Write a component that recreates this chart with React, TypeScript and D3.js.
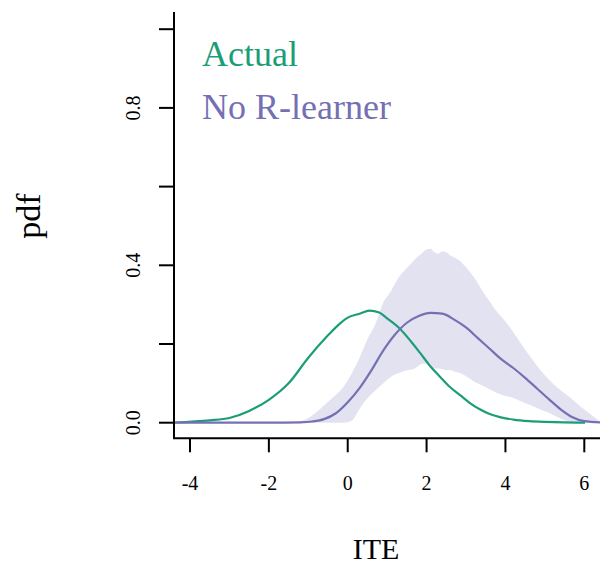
import React from 'react';
import * as d3 from 'd3';

const actualX = [-4.4, -3.5, -3.0, -2.5, -2.0, -1.5, -1.0, -0.5, -0.2, 0.0, 0.3, 0.55, 0.8, 1.0, 1.33, 1.6, 1.83, 2.1, 2.34, 2.6, 2.85, 3.1, 3.35, 3.6, 3.86, 4.2, 4.6, 5.0, 5.5, 6.02];
const actualY = [0.0005, 0.006, 0.012, 0.03, 0.058, 0.1, 0.165, 0.222, 0.252, 0.267, 0.277, 0.285, 0.28, 0.265, 0.238, 0.207, 0.178, 0.143, 0.117, 0.09, 0.07, 0.05, 0.034, 0.022, 0.014, 0.008, 0.004, 0.002, 0.0007, 0.0003];

const noRX = [-4.4, -2.0, -1.2, -0.9, -0.6, -0.3, 0.0, 0.3, 0.6, 0.9, 1.2, 1.5, 1.8, 2.1, 2.4, 2.7, 3.0, 3.3, 3.6, 3.9, 4.2, 4.5, 4.8, 5.1, 5.4, 5.7, 6.0, 6.4];
const noRY = [0, 0, 0.001, 0.003, 0.009, 0.024, 0.052, 0.088, 0.133, 0.183, 0.224, 0.254, 0.271, 0.279, 0.277, 0.262, 0.242, 0.215, 0.188, 0.161, 0.139, 0.114, 0.087, 0.06, 0.034, 0.014, 0.004, 0.001];

const bandX = [-1.3, -1.0, -0.7, -0.4, -0.1, 0.1, 0.3, 0.5, 0.7, 0.9, 1.1, 1.3, 1.5, 1.7, 1.9, 2.0, 2.1, 2.2, 2.3, 2.4, 2.5, 2.6, 2.7, 2.85, 3.0, 3.2, 3.4, 3.6, 3.8, 4.0, 4.2, 4.45, 4.7, 4.9, 5.1, 5.3, 5.5, 5.7, 5.9, 6.1, 6.4];
const bandHi = [0, 0.012, 0.035, 0.062, 0.092, 0.125, 0.165, 0.212, 0.25, 0.305, 0.335, 0.37, 0.393, 0.415, 0.432, 0.44, 0.442, 0.433, 0.43, 0.436, 0.433, 0.425, 0.42, 0.411, 0.395, 0.37, 0.338, 0.308, 0.28, 0.257, 0.23, 0.193, 0.158, 0.132, 0.11, 0.091, 0.075, 0.059, 0.041, 0.026, 0.003];
const bandLo = [0, 0, 0, 0, 0, 0.005, 0.035, 0.062, 0.082, 0.1, 0.117, 0.126, 0.133, 0.138, 0.15, 0.15, 0.14, 0.138, 0.138, 0.136, 0.134, 0.134, 0.13, 0.126, 0.118, 0.105, 0.095, 0.085, 0.075, 0.068, 0.063, 0.052, 0.042, 0.033, 0.025, 0.015, 0.006, 0.001, 0, 0, 0];

const xTicks = [-4, -2, 0, 2, 4, 6];
const yTicks = [0, 0.2, 0.4, 0.6, 0.8, 1.0];
const yLabels = [0, 0.4, 0.8];

const legendNames = ['Actual', 'No R-learner'];
const colors = ['#1b9e77', '#7570b3'];

export default function App() {
  const x = d3.scaleLinear().domain([-4, 6]).range([190, 584.3]);
  const y = d3.scaleLinear().domain([0, 1]).range([422.7, 29.2]);
  const left = 174, bottom = 438.3, top = 12;
  const font = '"Liberation Serif", serif';

  const line = d3.line<[number, number]>()
    .x(d => x(d[0]))
    .y(d => y(d[1]))
    .curve(d3.curveMonotoneX);

  const area = d3.area<number>()
    .x((d, i) => x(bandX[i]))
    .y0((d, i) => y(bandLo[i]))
    .y1((d, i) => y(bandHi[i]))
    .curve(d3.curveMonotoneX);

  const actualPts = actualX.map((v, i) => [v, actualY[i]] as [number, number]);
  const noRPts = noRX.map((v, i) => [v, noRY[i]] as [number, number]);

  return (
    <svg width={600} height={565} style={{ position: 'absolute', left: 0, top: 0, background: '#fff' }}
      fontFamily={font}>
      <defs>
        <clipPath id="plotclip">
          <rect x={left} y={top} width={600 - left} height={bottom - top} />
        </clipPath>
      </defs>
      <g clipPath="url(#plotclip)">
        <path d={area(bandX) || ''} fill="#7570b3" fillOpacity={0.2} />
        <path d={line(actualPts) || ''} fill="none" stroke={colors[0]} strokeWidth={2.2} />
        <path d={line(noRPts) || ''} fill="none" stroke={colors[1]} strokeWidth={2.2} />
      </g>

      {/* axes */}
      <path d={`M${left},${top}V${bottom}H600`} fill="none" stroke="#000" strokeWidth={2} />
      {yTicks.map(t => (
        <line key={t} x1={left - 15} x2={left} y1={y(t)} y2={y(t)} stroke="#000" strokeWidth={2} />
      ))}
      {yLabels.map(t => (
        <text key={t} transform={`translate(140,${y(t)}) rotate(-90)`} textAnchor="middle" fontSize={20}>
          {t.toFixed(1)}
        </text>
      ))}
      {xTicks.map(t => (
        <g key={t}>
          <line x1={x(t)} x2={x(t)} y1={bottom} y2={bottom + 14} stroke="#000" strokeWidth={2} />
          <text x={x(t)} y={490} textAnchor="middle" fontSize={20}>{t}</text>
        </g>
      ))}

      <text transform="translate(40,216) rotate(-90)" textAnchor="middle" fontSize={34}>pdf</text>
      <text x={376} y={559} textAnchor="middle" fontSize={30}>ITE</text>

      {legendNames.map((n, i) => (
        <text key={n} x={202} y={66 + i * 53} fontSize={36} fill={colors[i]}>{n}</text>
      ))}
    </svg>
  );
}
